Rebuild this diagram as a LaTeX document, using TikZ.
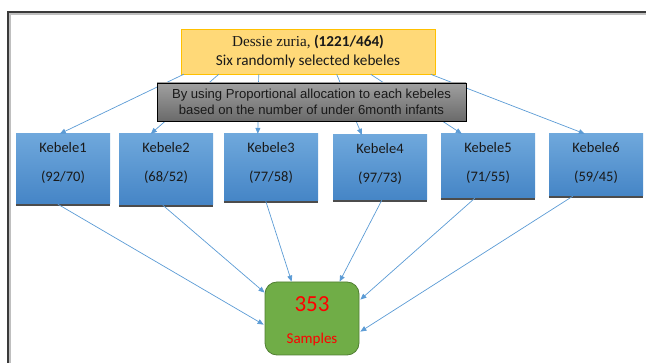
\documentclass[tikz,border=0pt]{standalone}
\usepackage{fontspec}
\setmainfont{Carlito}
\newfontfamily\timesf{Liberation Serif}
\newfontfamily\arialf{Liberation Sans}
\usetikzlibrary{calc,arrows.meta}
\definecolor{arrowblue}{HTML}{5B9BD5}
\definecolor{yelfill}{HTML}{FFD978}
\definecolor{yeldraw}{HTML}{FFC000}
\definecolor{greyTop}{HTML}{A0A0A0}
\definecolor{greyBot}{HTML}{6A6A6A}
\definecolor{blueTop}{HTML}{6FA8DC}
\definecolor{blueBot}{HTML}{4585C6}
\definecolor{greenFill}{HTML}{70AD47}
\definecolor{greenDraw}{HTML}{507E32}
\definecolor{frameCol}{HTML}{3A3A3A}
\tikzset{
  conn/.style={draw=arrowblue, line width=0.7pt, -{Triangle[length=6pt,width=5pt]}},
  kbox/.style={rectangle, minimum width=94pt, inner sep=0pt,
    top color=blueTop, bottom color=blueBot, draw=none},
  ktext/.style={font=\fontsize{14.5}{17}\selectfont, text=black!90},
}
\begin{document}
\begin{tikzpicture}[x=1pt,y=-1pt]
\useasboundingbox (0,0) rectangle (646,363);
% frame
\draw[line width=2.4pt, black!25] (9.5,363) -- (9.5,13.5) -- (646,13.5);
\draw[line width=1.6pt, frameCol] (8,363) -- (8,12) -- (646,12);

% top boxes
\node[rectangle, minimum width=254pt, minimum height=45pt, inner sep=0pt,
  fill=yelfill, draw=yeldraw, line width=0.6pt] (yel) at (308,51.5) {};
\node[font=\fontsize{15.2}{19}\selectfont, align=center, text=black!90] (yeltxt) at (yel.center)
  {{\timesf Dessie zuria,} \textbf{(1221/464)}\\Six randomly selected kebeles};

% kebele boxes
\node[kbox, minimum height=70pt] (k1) at (63,169) {};
\node[kbox, minimum height=71pt] (k2) at (166,169.5) {};
\node[kbox, minimum height=67pt] (k3) at (271,167.5) {};
\node[kbox, minimum height=65pt] (k4) at (380,167.5) {};
\node[kbox, minimum height=64pt] (k5) at (488,166) {};
\node[kbox, minimum height=62pt] (k6) at (596,165) {};
\foreach \k in {k1,k2,k3,k4,k5,k6}{
  \draw[line width=1.6pt, black!70] ($(\k.south west)+(0,0.8)$) -- ($(\k.south east)+(0,0.8)$);
}
\node[ktext] (k1a) at ($(k1.north)+(0,14)$) {Kebele1};
\node[ktext] (k1b) at ($(k1.north)+(0,43)$) {(92/70)};
\node[ktext] (k2a) at ($(k2.north)+(0,14)$) {Kebele2};
\node[ktext] (k2b) at ($(k2.north)+(0,43)$) {(68/52)};
\node[ktext] (k3a) at ($(k3.north)+(0,14)$) {Kebele3};
\node[ktext] (k3b) at ($(k3.north)+(0,43)$) {(77/58)};
\node[ktext] (k4a) at ($(k4.north)+(0,14)$) {Kebele4};
\node[ktext] (k4b) at ($(k4.north)+(0,43)$) {(97/73)};
\node[ktext] (k5a) at ($(k5.north)+(0,14)$) {Kebele5};
\node[ktext] (k5b) at ($(k5.north)+(0,43)$) {(71/55)};
\node[ktext] (k6a) at ($(k6.north)+(0,14)$) {Kebele6};
\node[ktext] (k6b) at ($(k6.north)+(0,43)$) {(59/45)};

% connectors from top box to kebeles
\draw[conn] ($(yel.south west)+(3,0)$) -- ($(k1.north west)+(44,0)$);
\draw[conn] ($(yel.south west)+(38,0)$) -- ($(k2.north west)+(32,0)$);
\draw[conn] ($(yel.south west)+(78,0)$) -- ($(k3.north west)+(34,0)$);
\draw[conn] ($(yel.south west)+(156,0)$) -- ($(k4.north west)+(29,0)$);
\draw[conn] ($(yel.south west)+(190,0)$) -- ($(k5.north west)+(21,0)$);
\draw[conn] ($(yel.south west)+(250,0)$) -- ($(k6.north west)+(36,0)$);

% grey box (drawn over the connectors)
\node[rectangle, minimum width=309pt, minimum height=38pt, inner sep=0pt,
  top color=greyTop, bottom color=greyBot, draw=black, line width=0.8pt] (grey) at (311.5,102) {};
\node[font=\arialf\fontsize{13.1}{16}\selectfont, align=center, text=black!90] (greytxt) at (grey.center)
  {By using Proportional allocation to each kebeles\\based on the number of under 6month infants};

% samples box
\node[rectangle, rounded corners=12pt, minimum width=94pt, minimum height=73pt, inner sep=0pt,
  fill=greenFill, draw=greenDraw, line width=0.8pt] (smp) at (312,318.5) {};
\node[font=\fontsize{23}{26}\selectfont, text=red] (smpn) at ($(smp.north)+(0,23)$) {353};
\node[font=\fontsize{15}{18}\selectfont, text=red] (smpt) at ($(smp.north)+(0,58)$) {Samples};

% connectors from kebeles to samples
\draw[conn] ($(k1.south west)+(42,0)$) -- ($(smp.north west)+(-1,43)$);
\draw[conn] ($(k2.south west)+(44,0)$) -- ($(smp.north west)+(0,11)$);
\draw[conn] ($(k3.south west)+(42,0)$) -- ($(smp.north west)+(27,0)$);
\draw[conn] ($(k4.south west)+(49,0)$) -- ($(smp.north west)+(75,0)$);
\draw[conn] ($(k5.south west)+(34,0)$) -- ($(smp.north east)+(1,18)$);
\draw[conn] ($(k6.south west)+(24,0)$) -- ($(smp.north east)+(1,50)$);
\end{tikzpicture}
\end{document}
